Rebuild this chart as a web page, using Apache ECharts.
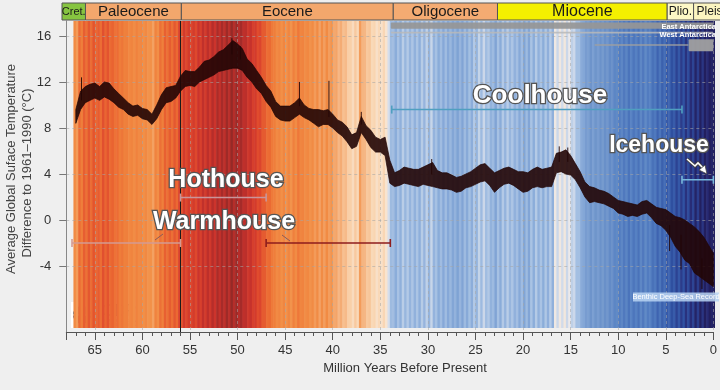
<!DOCTYPE html>
<html>
<head>
<meta charset="utf-8">
<script src="https://cdn.jsdelivr.net/npm/echarts@6.0.0/dist/echarts.min.js"></script>
<style>
html,body{margin:0;padding:0;background:#efefef;}
#chart{width:720px;height:390px;}
</style>
</head>
<body>
<div id="chart"></div>
<script>
// ---------------- data ----------------
const ages = [67,66.5,66,65.5,65,64.5,64,63.5,63,62.5,62,61.5,61,60.5,60,59.5,59,58.5,58,57.5,57,56.5,56,55.5,55,54.5,54,53.5,53,52.5,52,51.5,51,50.5,50,49.5,49,48.5,48,47.5,47,46.5,46,45.5,45,44.5,44,43.5,43,42.5,42,41.5,41,40.5,40,39.5,39,38.5,38,37.5,37,36.5,36,35.5,35,34.5,34,33.5,33,32.5,32,31.5,31,30.5,30,29.5,29,28.5,28,27.5,27,26.5,26,25.5,25,24.5,24,23.5,23,22.5,22,21.5,21,20.5,20,19.5,19,18.5,18,17.5,17,16.5,16,15.5,15,14.5,14,13.5,13,12.5,12,11.5,11,10.5,10,9.5,9,8.5,8,7.5,7,6.5,6,5.5,5,4.5,4,3.5,3,2.5,2,1.5,1,0.5,0];
const tempLow = [8.4,9.6,10.2,10.4,10.6,10.4,10.7,10.5,10.2,9.8,9.6,9.2,9.0,9.1,8.8,8.7,8.3,8.8,9.6,10.2,10.3,10.6,11.2,11.6,11.7,11.6,12.0,12.2,12.4,12.6,12.9,13.0,13.1,13.2,13.2,13.0,12.4,12.0,11.4,11.0,10.3,9.8,9.0,8.7,8.6,8.6,8.9,9.2,8.9,8.7,8.4,8.1,8.3,8.3,8.0,7.6,7.3,6.8,6.2,6.4,7.6,7.0,6.3,5.9,5.9,5.6,3.2,2.9,3.0,3.2,3.1,3.0,2.9,3.1,3.0,2.9,2.8,2.7,2.7,2.6,2.4,2.5,2.8,2.9,3.1,3.3,3.4,3.0,2.4,2.8,3.1,3.2,3.0,2.7,2.4,2.5,2.8,2.9,2.8,2.9,2.9,4.1,4.2,4.0,3.9,3.5,2.8,2.0,1.5,1.6,1.5,1.4,1.2,1.0,0.6,0.5,0.3,0.4,0.3,0.5,0.6,0.2,-0.3,-0.5,-0.9,-1.5,-2.3,-2.8,-3.5,-3.8,-4.6,-4.9,-5.2,-5.5,-5.8];
const tempHigh = [9.6,11.2,11.6,11.8,11.9,11.6,12.0,11.9,11.4,11.0,10.6,10.2,9.9,10.0,9.7,9.6,9.2,10.0,10.9,11.5,11.6,11.7,12.5,13.0,12.9,12.9,13.3,13.8,13.9,14.2,14.6,14.8,15.2,15.6,15.3,14.9,14.0,13.6,13.0,12.4,11.7,11.2,10.3,9.9,9.9,9.9,10.2,10.6,10.0,9.7,9.6,9.6,9.5,9.6,9.2,8.7,8.5,8.1,7.4,7.6,9.0,8.2,7.8,7.2,7.0,7.2,5.2,4.1,4.3,4.6,4.5,4.4,4.4,4.6,4.8,5.0,4.3,4.1,4.1,3.9,3.7,3.8,4.0,4.2,4.5,4.8,4.9,4.5,4.1,4.3,4.5,4.6,4.4,4.2,4.2,4.1,4.4,4.6,4.4,4.5,4.6,5.8,5.9,6.1,5.6,4.9,4.2,3.3,2.9,2.8,2.6,2.5,2.3,2.0,1.7,1.6,1.5,1.4,1.3,1.6,1.7,1.4,1.1,1.0,0.9,0.6,0.3,0.2,0.0,-0.3,-0.6,-1.0,-1.5,-2.2,-2.9];
const spikeAges  = [66.4,50.6,49.7,43.5,40.4,37.0,29.6,16.2,15.3,4.6,3.4,1.2];
const spikeTemps = [12.4,15.8,15.1,12.0,12.1,9.4,5.3,6.4,6.3,-2.7,-4.3,-6.0];

const yTickValues = [-4,0,4,8,12,16];

const epochNames = ['Cret.','Paleocene','Eocene','Oligocene','Miocene','Plio.','Pleist.'];
const epochStart = [68.45,66.0,56.0,33.9,23.03,5.33,2.58];
const epochEnd   = [66.0,56.0,33.9,23.03,5.33,2.58,0];

const stateNames = ['Warmhouse','Hothouse','Warmhouse','Coolhouse','Icehouse'];
const stateStart = [67.4,56.0,47.0,33.8,3.3];
const stateEnd   = [56.0,47.0,33.95,3.3,0];

const iceSheetNames = ['East Antarctica','West Antarctica'];
const iceSegStart = [33.9,33.9,12.5,2.6];
const iceSegEnd   = [0,0,2.6,0];

// ---------------- styles / layout ----------------
const FONT = '"Liberation Sans", Arial, Helvetica, sans-serif';
const STRIPE_TOP = 17.3, STRIPE_BOTTOM = -9.4;
const STRIPE_COLORS = ['#221f5e','#282b75','#2b3d8c','#2f4fa0','#3d63b0','#5580c2','#7297cc','#84a7d7','#a9c3e4','#e9eaee','#f8e4d0','#f9d3ad','#f5b37f','#f29048','#ef7e3b','#ea6632','#dd462d','#cc342c','#b02c2a','#952a27'];
const EPOCH_FILL = ['#86c440','#f3a76c','#f3a76c','#f4ab72','#f4f000','#fdf8c6','#fcf5c0'];
const EPOCH_FONT = ['11px','15px','15px','15px','16px','12px','12px'];
const STATE_STYLE = [
  {y:-2.0, color:'#d49a92'},
  {y:1.95, color:'#c9959a'},
  {y:-2.0, color:'#8e1d1d'},
  {y:9.6,  color:'#4f9fc0'},
  {y:3.5,  color:'#78b8dc'}
];
const ICE_STYLE = [
  {top:17.18, bottom:16.62, fill:'rgba(150,150,150,0.92)'},
  {top:16.36, bottom:16.22, fill:'rgba(185,185,185,0.85)'},
  {top:15.27, bottom:15.14, fill:'rgba(160,160,160,0.9)'},
  {top:15.72, bottom:14.66, fill:'rgba(160,160,160,0.95)'}
];
const CURVE = 'rgba(34,5,5,0.9)';

// stripes: two half-bins per sample, coloured from the temperature
const stripeData = [];
ages.forEach((a, i) => {
  const mid = (tempLow[i] + tempHigh[i]) / 2;
  stripeData.push([a + 0.25, a, (mid + tempHigh[i]) / 2]);
  stripeData.push([a, a - 0.25, (mid + tempLow[i]) / 2]);
});

function midAt(age) {
  let best = 0;
  for (let i = 0; i < ages.length; i++) if (Math.abs(ages[i] - age) < Math.abs(ages[best] - age)) best = i;
  return (tempLow[best] + tempHigh[best]) / 2;
}

function outlined(text, x, y, size) {
  return {type:'text', x:x, y:y, z:20, style:{text:text, font:'bold ' + size + 'px ' + FONT, fill:'#ffffff', stroke:'#555555', lineWidth:2.6, strokeFirst:true, align:'center', verticalAlign:'middle'}};
}

const chart = echarts.init(document.getElementById('chart'), null, {renderer:'canvas'});
chart.setOption({
  backgroundColor:'#efefef',
  animation:false,
  grid:[
    {left:66.3, right:1.7, top:21, height:311},
    {left:62.0, right:1.7, top:3, height:17}
  ],
  xAxis:[
    {type:'value', gridIndex:0, min:0, max:68, inverse:true, interval:5, z:3,
     axisLine:{show:true, onZero:false, lineStyle:{color:'#555', width:1}},
     axisTick:{show:true, length:8, lineStyle:{color:'#555'}},
     minorTick:{show:true, splitNumber:5, length:4, lineStyle:{color:'#555'}},
     axisLabel:{color:'#333', fontSize:13, fontFamily:FONT, margin:12, formatter:v => (v % 5 === 0 ? String(v) : '')},
     splitLine:{show:true, lineStyle:{type:[3,3], color:'rgba(165,165,165,0.55)', width:1}}
    },
    {type:'value', gridIndex:1, min:0, max:68.45, inverse:true, show:false}
  ],
  yAxis:[
    {type:'value', gridIndex:0, min:-9.74, max:17.3, z:3,
     axisLine:{show:true, onZero:false, lineStyle:{color:'#888'}},
     axisTick:{show:true, length:7, customValues:yTickValues, lineStyle:{color:'#777'}},
     axisLabel:{customValues:yTickValues, color:'#333', fontSize:13, fontFamily:FONT, margin:15},
     splitLine:{show:true, lineStyle:{type:[3,3], color:'rgba(165,165,165,0.55)', width:1}}
    },
    {type:'value', gridIndex:1, min:0, max:1, show:false}
  ],
  visualMap:[{type:'continuous', show:false, seriesIndex:0, dimension:2, min:-4, max:15, inRange:{color:STRIPE_COLORS}}],
  series:[
    { // 0: temperature stripes
      type:'custom', xAxisIndex:0, yAxisIndex:0, z:1, silent:true, clip:true,
      encode:{x:[0,1], y:2},
      data:stripeData,
      renderItem:function(params, api){
        const p0 = api.coord([api.value(0), STRIPE_TOP]);
        const p1 = api.coord([api.value(1), STRIPE_BOTTOM]);
        return {type:'rect', shape:{x:p0[0], y:p0[1], width:p1[0]-p0[0]+0.6, height:p1[1]-p0[1]}, style:{fill:api.visual('color')}};
      },
      markLine:{silent:true, symbol:['none','none'], label:{show:false}, lineStyle:{color:'#1a1a1a', width:1, type:'solid'}, data:[{xAxis:56}]}
    },
    { // 1: Antarctic ice sheets
      type:'custom', xAxisIndex:0, yAxisIndex:0, z:4, silent:true, clip:true,
      data:iceSegStart.map((s,i)=>[s, iceSegEnd[i], i]),
      renderItem:function(params, api){
        const st = ICE_STYLE[api.value(2)];
        const p0 = api.coord([api.value(0), st.top]);
        const p1 = api.coord([api.value(1), st.bottom]);
        return {type:'rect', shape:{x:p0[0], y:p0[1], width:p1[0]-p0[0], height:p1[1]-p0[1], r:1}, style:{fill:st.fill}};
      }
    },
    { // 2: temperature record envelope (low..high readings)
      type:'custom', xAxisIndex:0, yAxisIndex:0, z:6, silent:true, clip:true,
      data:ages.map((a,i)=>[a, tempLow[i], tempHigh[i]]),
      renderItem:function(params, api){
        if (params.dataIndexInside !== 0) return null;
        const n = params.dataInsideLength || ages.length;
        const pts = [];
        for (let i = 0; i < n; i++) pts.push(api.coord([api.value(0,i), api.value(2,i)]));
        for (let i = n-1; i >= 0; i--) pts.push(api.coord([api.value(0,i), api.value(1,i)]));
        return {type:'polygon', shape:{points:pts}, style:{fill:CURVE, stroke:CURVE, lineWidth:0.8}};
      }
    },
    { // 3: spikes of the record
      type:'custom', xAxisIndex:0, yAxisIndex:0, z:6, silent:true, clip:true,
      data:spikeAges.map((a,i)=>[a, spikeTemps[i]]),
      renderItem:function(params, api){
        const a = api.value(0);
        const p0 = api.coord([a, midAt(a)]);
        const p1 = api.coord([a, api.value(1)]);
        return {type:'line', shape:{x1:p0[0], y1:p0[1], x2:p1[0], y2:p1[1]}, style:{stroke:CURVE, lineWidth:1}};
      }
    },
    { // 4: climate-state ranges
      type:'custom', xAxisIndex:0, yAxisIndex:0, z:8, silent:true, clip:false,
      data:stateStart.map((s,i)=>[s, stateEnd[i], i]),
      renderItem:function(params, api){
        const st = STATE_STYLE[api.value(2)];
        const p0 = api.coord([api.value(0), st.y]);
        const p1 = api.coord([api.value(1), st.y]);
        const style = {stroke:st.color, lineWidth:1.6};
        return {type:'group', children:[
          {type:'line', shape:{x1:p0[0], y1:p0[1], x2:p1[0], y2:p1[1]}, style:style},
          {type:'line', shape:{x1:p0[0], y1:p0[1]-4, x2:p0[0], y2:p0[1]+4}, style:style},
          {type:'line', shape:{x1:p1[0], y1:p1[1]-4, x2:p1[0], y2:p1[1]+4}, style:style}
        ]};
      }
    },
    { // 5: epoch header
      type:'custom', xAxisIndex:1, yAxisIndex:1, z:4, silent:true, clip:false,
      data:epochStart.map((s,i)=>[s, epochEnd[i], i]),
      renderItem:function(params, api){
        const i = api.value(2);
        const p0 = api.coord([api.value(0), 1]);
        const p1 = api.coord([api.value(1), 0]);
        const last = i === epochNames.length - 1;
        return {type:'group', children:[
          {type:'rect', shape:{x:p0[0], y:p0[1], width:p1[0]-p0[0]+(last?4:0), height:p1[1]-p0[1]}, style:{fill:EPOCH_FILL[i], stroke:'#555', lineWidth:1}},
          {type:'text', style:{text:epochNames[i], x:last ? p0[0]+3 : (p0[0]+p1[0])/2, y:(p0[1]+p1[1])/2+0.5,
            align:last ? 'left' : 'center', verticalAlign:'middle', font:EPOCH_FONT[i] + ' ' + FONT, fill:'#1a1a1a'}}
        ]};
      }
    }
  ],
  graphic:[
    {type:'text', x:405, y:368, style:{text:'Million Years Before Present', font:'13px ' + FONT, fill:'#333', align:'center', verticalAlign:'middle'}},
    {type:'text', x:11, y:169, rotation:Math.PI/2, style:{text:'Average Global Suface Temperature', font:'13px ' + FONT, fill:'#444', align:'center', verticalAlign:'middle'}},
    {type:'text', x:27.5, y:173, rotation:Math.PI/2, style:{text:'Difference to 1961\u20131990 (\u00b0C)', font:'13px ' + FONT, fill:'#444', align:'center', verticalAlign:'middle'}},
    outlined(stateNames[1], 226, 180, 25),
    outlined(stateNames[0], 224, 222, 25),
    outlined(stateNames[3], 540, 96, 26),
    outlined(stateNames[4], 659, 146, 23),
    {type:'line', z:20, shape:{x1:155, y1:240, x2:163, y2:234}, style:{stroke:'#8a5a5a', lineWidth:1}},
    {type:'line', z:20, shape:{x1:282, y1:235, x2:290, y2:241}, style:{stroke:'#8a5a5a', lineWidth:1}},
    {type:'polyline', z:20, shape:{points:[[687,159],[695,166],[698,163],[704,169]]}, style:{stroke:'#444', lineWidth:3.2, fill:null}},
    {type:'polyline', z:21, shape:{points:[[687,159],[695,166],[698,163],[704,169]]}, style:{stroke:'#fff', lineWidth:1.6, fill:null}},
    {type:'polygon', z:21, shape:{points:[[699,170],[707,174],[705,165]]}, style:{fill:'#fff', stroke:'#444', lineWidth:0.8}},
    {type:'text', x:716, y:26.5, z:20, style:{text:iceSheetNames[0], font:'bold 7.5px ' + FONT, fill:'#fff', align:'right', verticalAlign:'middle'}},
    {type:'text', x:716, y:35, z:20, style:{text:iceSheetNames[1], font:'bold 7.5px ' + FONT, fill:'#fff', align:'right', verticalAlign:'middle'}},
    {type:'rect', z:20, shape:{x:633, y:292.5, width:86, height:9}, style:{fill:'rgba(185,212,242,0.85)'}},
    {type:'text', x:676, y:297.2, z:21, style:{text:'Benthic Deep-Sea Record', font:'7.5px ' + FONT, fill:'#ffffff', align:'center', verticalAlign:'middle'}},
    {type:'group', z:20, children:[
      {type:'rect', shape:{x:71, y:302, width:66, height:26}, style:{fill:'#ffffff'}},
      {type:'circle', shape:{cx:82, cy:315, r:9}, style:{fill:'#1d3170'}},
      {type:'sector', shape:{cx:82, cy:315, r:9, startAngle:Math.PI, endAngle:2*Math.PI}, style:{fill:'#3f8fc8'}},
      {type:'line', shape:{x1:73, y1:315, x2:91, y2:315}, style:{stroke:'#fff', lineWidth:1.2}},
      {type:'line', shape:{x1:82, y1:306, x2:82, y2:324}, style:{stroke:'#fff', lineWidth:1.2}},
      {type:'text', x:97, y:312, style:{text:'IODP', font:'16px ' + FONT, fill:'#1f2f6a', verticalAlign:'middle'}},
      {type:'text', x:98, y:321, style:{text:'INTERNATIONAL OCEAN', font:'3.6px ' + FONT, fill:'#1f2f6a', verticalAlign:'middle'}},
      {type:'text', x:98, y:325, style:{text:'DISCOVERY PROGRAM', font:'3.6px ' + FONT, fill:'#1f2f6a', verticalAlign:'middle'}}
    ]}
  ]
});
</script>
</body>
</html>
